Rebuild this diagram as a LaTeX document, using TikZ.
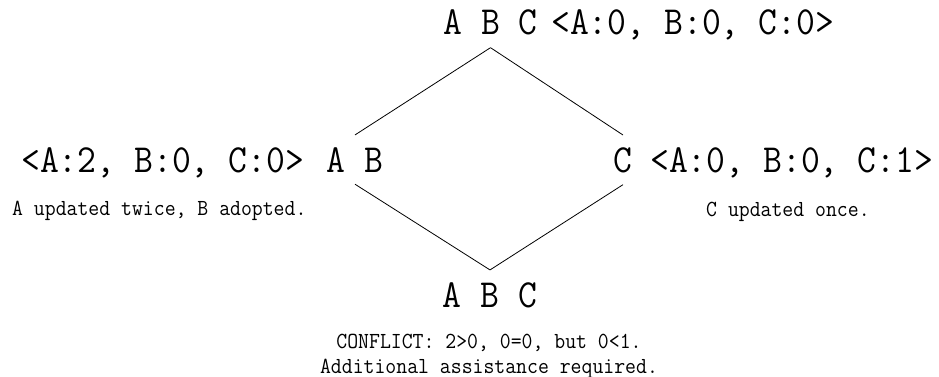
\documentclass[tikz,border=0pt]{standalone}
\usepackage{fontspec}
\newfontfamily\vcfont{Latin Modern Mono}[FakeStretch=0.92]

\begin{document}
\begin{tikzpicture}[x=1pt,y=-1pt,
  stateset/.style={font=\vcfont\fontsize{39.8}{40}\selectfont,inner xsep=0pt,inner ysep=12pt,anchor=base},
  vclock/.style={font=\vcfont\fontsize{39.8}{40}\selectfont,inner sep=0pt,anchor=base west},
  remark/.style={font=\vcfont\fontsize{23}{25}\selectfont,inner sep=0pt,anchor=base west}]
  \useasboundingbox (0,0) rectangle (939,377);
  \node[stateset] (abctop) at (490.5,35) {A B C};
  \node[vclock] (vtop) at (551,35) {<A:0, B:0, C:0>};
  \node[stateset] (ab) at (355,172) {A B};
  \node[vclock] (vab) at (21,172) {<A:2, B:0, C:0>};
  \node[remark] (nab) at (12,215) {A updated twice, B adopted.};
  \node[stateset] (c) at (623,172) {C};
  \node[vclock] (vc) at (650,172) {<A:0, B:0, C:1>};
  \node[remark] (nc) at (706,216) {C updated once.};
  \node[stateset] (abcbot) at (490,307) {A B C};
  \node[remark,anchor=base,align=center] (nabc) at (489,373) {CONFLICT: 2>0, 0=0, but 0<1.\\Additional assistance required.};
  \draw[line width=0.8pt] (abctop.south) -- (ab.north);
  \draw[line width=0.8pt] (abctop.south) -- (c.north);
  \draw[line width=0.8pt] (ab.south) -- (abcbot.north);
  \draw[line width=0.8pt] (c.south) -- (abcbot.north);
\end{tikzpicture}
\end{document}
